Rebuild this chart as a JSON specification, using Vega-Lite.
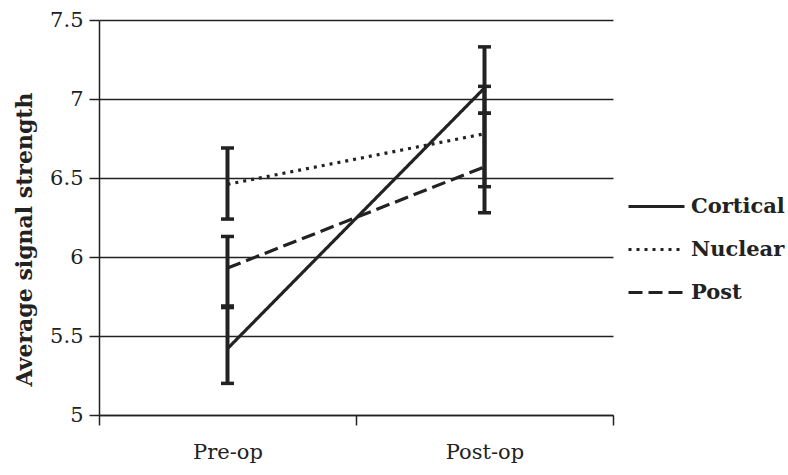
{
  "$schema": "https://vega.github.io/schema/vega-lite/v6.json",
  "width": 514,
  "height": 395,
  "autosize": "none",
  "padding": {"left": 99, "top": 20, "right": 175, "bottom": 60},
  "background": "white",
  "config": {
    "view": {"stroke": null},
    "font": "DejaVu Serif",
    "axis": {"labelFont": "DejaVu Serif", "titleFont": "DejaVu Serif", "labelColor": "#222", "titleColor": "#222"},
    "legend": {"labelFont": "DejaVu Serif"}
  },
  "data": {
    "values": [
      {"period": "Pre-op", "series": "Cortical", "mean": 5.42, "low": 5.20, "high": 5.68},
      {"period": "Pre-op", "series": "Nuclear", "mean": 6.46, "low": 6.24, "high": 6.69},
      {"period": "Pre-op", "series": "Post", "mean": 5.93, "low": 5.69, "high": 6.13},
      {"period": "Post-op", "series": "Cortical", "mean": 7.07, "low": 6.91, "high": 7.33},
      {"period": "Post-op", "series": "Nuclear", "mean": 6.78, "low": 6.445, "high": 7.08},
      {"period": "Post-op", "series": "Post", "mean": 6.57, "low": 6.28, "high": 6.91}
    ]
  },
  "encoding": {
    "x": {
      "field": "period", "type": "nominal", "sort": ["Pre-op", "Post-op"],
      "scale": {"paddingInner": 0, "paddingOuter": 0},
      "axis": {
        "title": null, "labelAngle": 0, "tickBand": "extent", "grid": false,
        "domainColor": "#222", "domainWidth": 1.5, "tickColor": "#222", "tickWidth": 1.5,
        "tickSize": 10, "labelFontSize": 21, "labelPadding": 16
      }
    }
  },
  "layer": [
    {
      "mark": {"type": "line", "strokeWidth": 3.2, "color": "#222"},
      "encoding": {
        "y": {
          "field": "mean", "type": "quantitative",
          "scale": {"domain": [5, 7.5], "nice": false, "zero": false},
          "axis": {
            "title": "Average signal strength", "titleFontSize": 22, "titleFontWeight": "bold",
            "values": [5, 5.5, 6, 6.5, 7, 7.5], "labelExpr": "'' + datum.value",
            "grid": true, "gridColor": "#222", "gridWidth": 1.5,
            "domainColor": "#222", "domainWidth": 1.5, "tickColor": "#222", "tickWidth": 1.5, "tickSize": 10,
            "labelFontSize": 21, "labelPadding": 6,
            "titleX": -75, "titleY": 219, "titleAngle": -90, "titleBaseline": "middle", "titleAlign": "center"
          }
        },
        "strokeDash": {
          "field": "series", "type": "nominal",
          "scale": {"domain": ["Cortical", "Nuclear", "Post"], "range": [[1, 0], [3, 5], [14, 6]]},
          "legend": {
            "title": null, "orient": "none", "legendX": 528, "legendY": 157,
            "symbolType": "stroke", "symbolSize": 3136, "symbolStrokeWidth": 3, "symbolStrokeColor": "#222",
            "labelFontSize": 21, "labelFontWeight": "bold", "labelColor": "#222", "labelOffset": 5, "rowPadding": 3
          }
        }
      }
    },
    {
      "mark": {"type": "rule", "strokeWidth": 4, "color": "#222"},
      "encoding": {
        "y": {"field": "low", "type": "quantitative"},
        "y2": {"field": "high"}
      }
    },
    {
      "mark": {"type": "tick", "orient": "horizontal", "size": 13, "thickness": 3.5, "color": "#222", "opacity": 1},
      "encoding": {"y": {"field": "low", "type": "quantitative"}}
    },
    {
      "mark": {"type": "tick", "orient": "horizontal", "size": 13, "thickness": 3.5, "color": "#222", "opacity": 1},
      "encoding": {"y": {"field": "high", "type": "quantitative"}}
    }
  ]
}
